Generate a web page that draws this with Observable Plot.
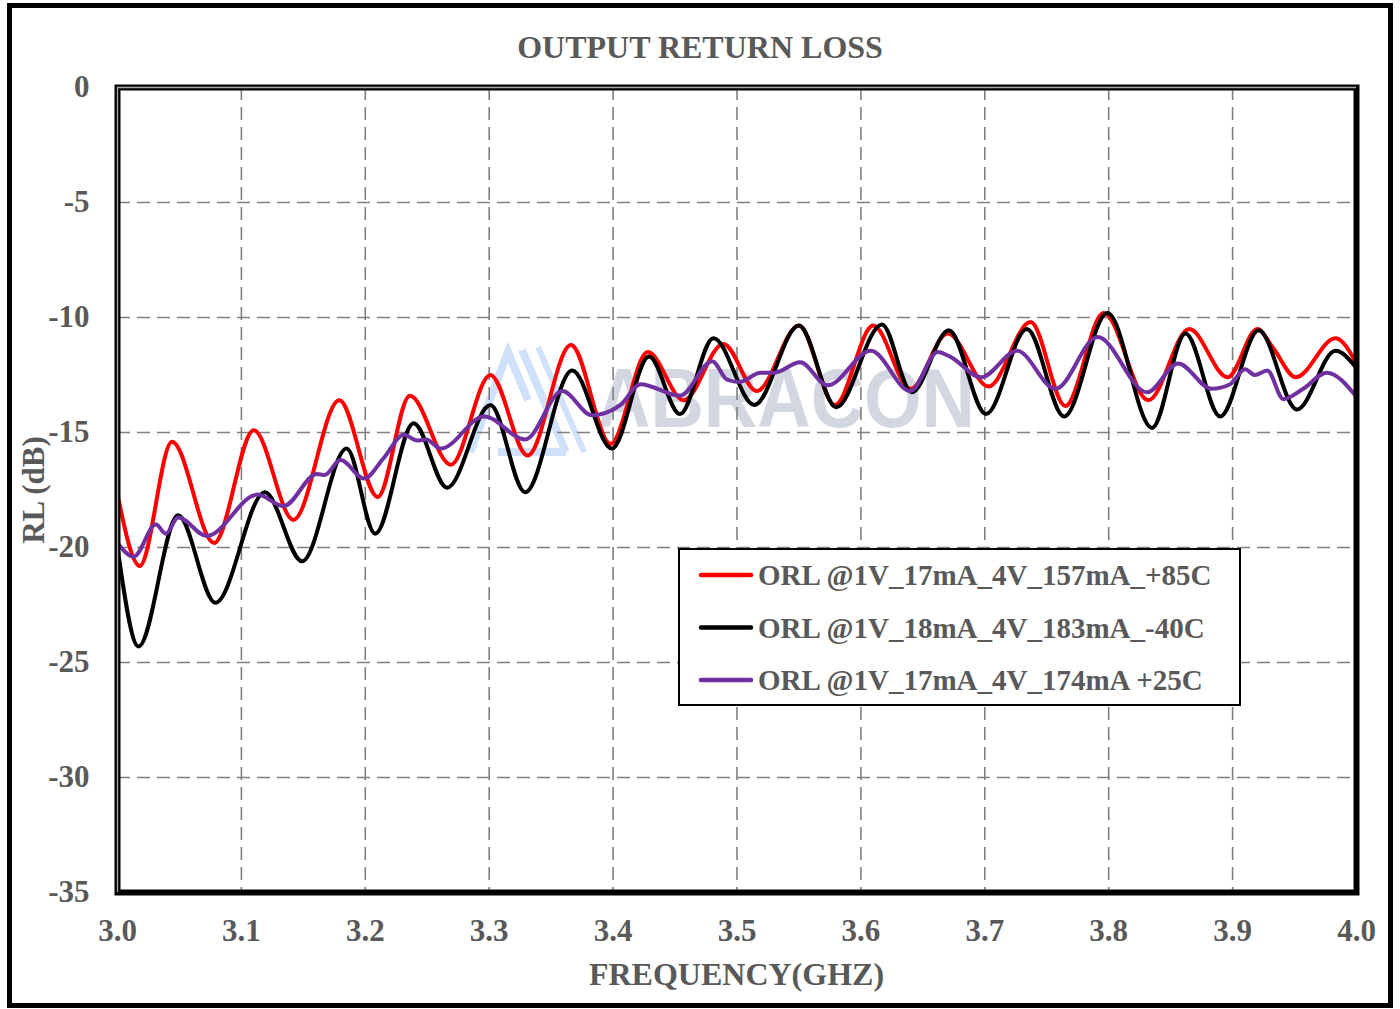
<!DOCTYPE html>
<html>
<head>
<meta charset="utf-8">
<script src="https://cdn.jsdelivr.net/npm/d3@7"></script>
<script src="https://cdn.jsdelivr.net/npm/@observablehq/plot@0.6"></script>
<style>
  html, body { margin: 0; padding: 0; background: #fff; }
  #wrap { position: relative; width: 1400px; height: 1009px; overflow: hidden; }
  #border { position: absolute; left: 7px; top: 3px; width: 1386px; height: 1005px; box-sizing: border-box; border: 5px solid #000; pointer-events: none; }
</style>
</head>
<body>
<div id="wrap"><div id="border"></div></div>
<script>
// ---- data ----
const chartTitle = "OUTPUT RETURN LOSS";
const xLabel = "FREQUENCY(GHZ)";
const yLabel = "RL (dB)";
const xTicks = [3.0, 3.1, 3.2, 3.3, 3.4, 3.5, 3.6, 3.7, 3.8, 3.9, 4.0];
const yTicks = [0, -5, -10, -15, -20, -25, -30, -35];
const seriesNames = ["ORL @1V_17mA_4V_157mA_+85C", "ORL @1V_18mA_4V_183mA_-40C", "ORL @1V_17mA_4V_174mA +25C"];
const seriesColors = ["#ff0000", "#000000", "#7030a0"];

const redFreq = [3.000, 3.018, 3.044, 3.078, 3.110, 3.142, 3.179, 3.210, 3.236, 3.269, 3.301, 3.331, 3.366, 3.398, 3.428, 3.457, 3.489, 3.516, 3.550, 3.579, 3.610, 3.640, 3.670, 3.703, 3.737, 3.765, 3.796, 3.832, 3.865, 3.896, 3.920, 3.933, 3.951, 3.983, 4.000];
const redRL   = [-17.7, -20.8, -15.4, -19.8, -14.9, -18.8, -13.6, -17.8, -13.4, -16.4, -12.5, -16.0, -11.2, -15.5, -11.5, -13.6, -11.15, -13.2, -10.35, -13.8, -10.35, -13.1, -10.7, -13.0, -10.2, -13.85, -9.8, -13.6, -10.5, -12.6, -10.5, -11.35, -12.6, -10.9, -12.0];

const blackFreq = [3.000, 3.017, 3.049, 3.079, 3.119, 3.149, 3.185, 3.208, 3.239, 3.266, 3.301, 3.329, 3.367, 3.399, 3.429, 3.454, 3.481, 3.514, 3.550, 3.580, 3.617, 3.641, 3.671, 3.701, 3.734, 3.764, 3.799, 3.835, 3.862, 3.890, 3.921, 3.952, 3.983, 4.000];
const blackRL   = [-20.0, -24.3, -18.6, -22.4, -17.6, -20.6, -15.7, -19.4, -14.6, -17.4, -13.8, -17.6, -12.3, -15.7, -11.7, -14.2, -10.9, -13.8, -10.35, -13.9, -10.3, -13.25, -10.55, -14.2, -10.5, -14.3, -9.8, -14.8, -10.7, -14.3, -10.55, -14.0, -11.45, -12.2];

const purpleFreq = [3.000, 3.013, 3.031, 3.039, 3.049, 3.072, 3.113, 3.134, 3.161, 3.167, 3.180, 3.199, 3.215, 3.231, 3.242, 3.249, 3.261, 3.296, 3.329, 3.359, 3.383, 3.406, 3.422, 3.454, 3.480, 3.492, 3.502, 3.519, 3.530, 3.551, 3.573, 3.608, 3.640, 3.662, 3.672, 3.697, 3.726, 3.757, 3.791, 3.831, 3.856, 3.883, 3.898, 3.910, 3.918, 3.928, 3.941, 3.957, 3.976, 4.000];
const purpleRL   = [-19.8, -20.4, -19.0, -19.4, -18.7, -19.5, -17.7, -18.2, -16.8, -16.85, -16.2, -17.0, -16.1, -15.1, -15.35, -15.3, -15.7, -14.3, -15.3, -13.2, -14.25, -13.8, -12.9, -13.4, -11.9, -12.7, -12.8, -12.4, -12.4, -11.95, -12.95, -11.45, -13.2, -11.5, -11.7, -12.6, -11.45, -13.1, -10.85, -13.25, -12.0, -13.1, -12.9, -12.25, -12.5, -12.3, -13.55, -13.1, -12.4, -13.45];

// ---- build rows ----
const seriesData = [[redFreq, redRL], [blackFreq, blackRL], [purpleFreq, purpleRL]];
const rows = [];
seriesData.forEach(([fs, vs], i) => fs.forEach((f, j) => rows.push({series: seriesNames[i], f, rl: vs[j]})));

const textColor = "#595959";
const serif = "'Liberation Serif', 'Times New Roman', serif";
const gridStyle = {stroke: "#808080", strokeOpacity: 1, strokeWidth: 1.6, strokeDasharray: "13,7"};

const chart = Plot.plot({
  width: 1400, height: 1009,
  marginLeft: 117, marginRight: 44, marginTop: 87, marginBottom: 117,
  style: {fontFamily: serif, background: "transparent", overflow: "visible"},
  x: {domain: [xTicks[0], xTicks[xTicks.length - 1]]},
  y: {domain: [yTicks[yTicks.length - 1], yTicks[0]]},
  color: {domain: seriesNames, range: seriesColors},
  marks: [
    Plot.gridX(xTicks.slice(1, -1), gridStyle),
    Plot.gridY(yTicks.slice(1, -1), gridStyle),
    Plot.line(rows, {x: "f", y: "rl", z: "series", stroke: "series", curve: "monotone-x", strokeWidth: 4, strokeLinejoin: "round", strokeLinecap: "round"}),
    Plot.frame({stroke: "#000", strokeWidth: 6}),
    Plot.ruleX([xTicks[0]], {y1: yTicks[0], y2: yTicks[yTicks.length - 1], stroke: "#aaaaaa", strokeWidth: 1.3}),
    Plot.ruleY([yTicks[0]], {x1: xTicks[0], x2: xTicks[xTicks.length - 1], stroke: "#aaaaaa", strokeWidth: 1.3}),
    Plot.axisX(xTicks, {tickSize: 0, tickPadding: 26, tickFormat: d => d.toFixed(1), fontSize: 31, fontWeight: "bold", color: textColor, label: null}),
    Plot.axisY(yTicks, {tickSize: 0, tickPadding: 28, tickFormat: d => String(d), fontSize: 31, fontWeight: "bold", color: textColor, label: null})
  ]
});

const svg = d3.select(chart);

// watermark (behind everything)
const wm = svg.insert("g", ":first-child");
const logo = wm.append("g").attr("fill", "none").attr("stroke", "#cfe1fb").attr("stroke-width", 8);
logo.append("path").attr("d", "M470,452 L508,352 L528,400");
logo.append("path").attr("d", "M522,350 L566,452");
logo.append("path").attr("d", "M538,347 L584,452").attr("stroke-width", 6);
logo.append("path").attr("d", "M498,452 L566,452");
wm.append("text").attr("x", 597).attr("y", 427).attr("text-anchor", "start")
  .attr("textLength", 378).attr("lengthAdjust", "spacingAndGlyphs")
  .attr("font-family", "'Liberation Sans', Arial, sans-serif").attr("font-weight", "bold")
  .attr("font-size", 84).attr("fill", "#d2d7e1").text("ABRACON");

// title and axis labels
svg.append("text").attr("x", 700).attr("y", 58).attr("text-anchor", "middle")
  .attr("font-family", serif).attr("font-weight", "bold").attr("font-size", 32).attr("fill", textColor).text(chartTitle);
svg.append("text").attr("x", 736.5).attr("y", 985).attr("text-anchor", "middle")
  .attr("font-family", serif).attr("font-weight", "bold").attr("font-size", 32).attr("fill", textColor).text(xLabel);
svg.append("text").attr("transform", "translate(44,490) rotate(-90)").attr("text-anchor", "middle")
  .attr("font-family", serif).attr("font-weight", "bold").attr("font-size", 31).attr("fill", textColor).text(yLabel);

// legend
const lg = svg.append("g").attr("transform", "translate(679,549)");
lg.append("rect").attr("width", 561).attr("height", 156).attr("fill", "#fff").attr("stroke", "#000").attr("stroke-width", 2);
seriesNames.forEach((name, i) => {
  const cy = 26 + i * 52.5;
  lg.append("line").attr("x1", 22).attr("x2", 72).attr("y1", cy).attr("y2", cy)
    .attr("stroke", seriesColors[i]).attr("stroke-width", 4.5).attr("stroke-linecap", "round");
  lg.append("text").attr("x", 79).attr("y", cy + 10).attr("text-anchor", "start").attr("font-family", serif).attr("font-weight", "bold")
    .attr("font-size", 29).attr("fill", textColor).text(name);
});

document.getElementById("wrap").prepend(chart);
</script>
</body>
</html>
